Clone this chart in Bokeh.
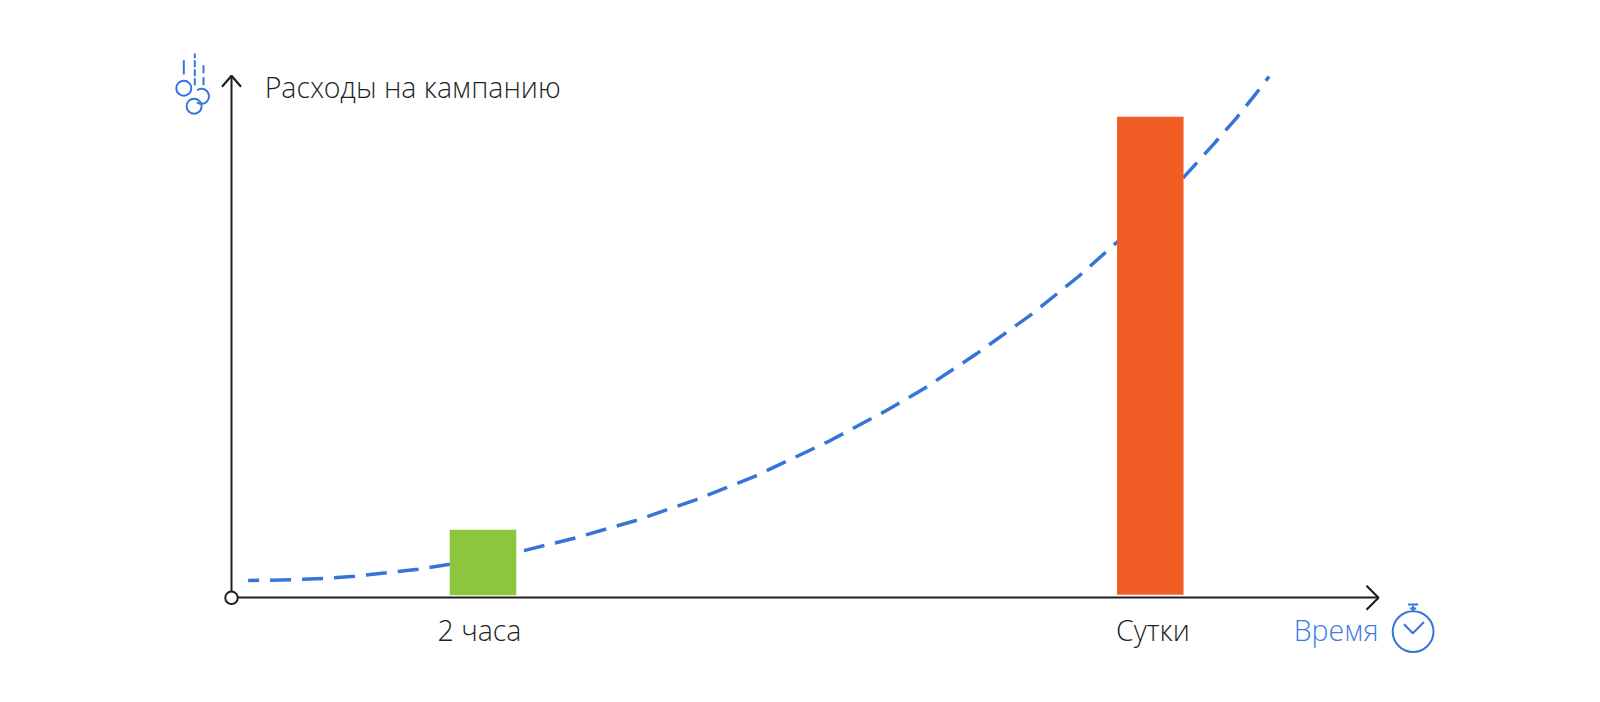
from bokeh.core.properties import value
from bokeh.embed import file_html
from bokeh.resources import INLINE
from bokeh.plotting import figure
from bokeh.models import FixedTicker, Range1d

FONT = "Open Sans Light"
INK = "#1f1f1f"
BLUE = "#3674d9"
TEXT_BLUE = "#3f7ce0"

# data: x/y units measured from the axis origin
bar_x = [251.5, 918.8]
bar_height = [65.5, 478]
bar_bottom = [2.5, 3]
bar_width = [66.5, 66.5]
bar_colors = ["#8cc63f", "#f15d24"]

curve_x = [16.6, 60, 91.6, 123.3, 155, 186.6, 218.3, 291.6, 341.6, 403.6, 464.3, 523.3, 598.3, 655, 692.3, 745, 797.6, 847, 886.6, 952.3, 983.3, 1004.3, 1024.3, 1037.6]
curve_y = [17.3, 18, 19.3, 21.6, 25, 28.6, 33.6, 47, 59.3, 77, 98, 121.5, 157, 187.3, 209, 244, 281.6, 321.3, 356.6, 420.6, 455, 479, 504, 521.3]

tick_positions = [248, 921.4]
tick_labels = {248: "2 часа", 921.4: "Сутки"}

y_title = "Расходы на кампанию"
x_title = "Время"

W, H = 1584, 686
OX, OY = 231.0, 597.3

p = figure(width=W, height=H, output_backend="svg", toolbar_location=None,
           min_border=0, outline_line_color=None, background_fill_color="white")
p.x_range = Range1d(-OX, W - OX)
p.y_range = Range1d(OY - H, OY)
p.grid.visible = False

# curve first, bars on top
p.line(curve_x, curve_y, line_color=BLUE, line_width=3.5, line_dash=[21, 11], line_dash_offset=10)
p.vbar(x=bar_x, width=bar_width, bottom=bar_bottom,
       top=[b + h for b, h in zip(bar_bottom, bar_height)], fill_color=bar_colors, line_color=None)

# axes
xa, ya = p.xaxis[0], p.yaxis[0]
xa.fixed_location = 0
ya.fixed_location = 0
xa.ticker = FixedTicker(ticks=tick_positions)
ya.ticker = FixedTicker(ticks=[])
xa.major_label_overrides = tick_labels
xa.bounds = (0, 1147)
ya.bounds = (0, 522)
for a in (xa, ya):
    a.axis_line_color = INK
    a.axis_line_width = 2
    a.major_tick_line_color = None
    a.minor_tick_line_color = None
xa.major_label_text_font = FONT
xa.major_label_text_font_size = "28.5px"
xa.major_label_text_color = INK
xa.major_label_standoff = 7

# arrow heads and origin
p.multi_line([[1135, 1147, 1135], [-9.5, 0, 9.5]], [[12, 0, -12], [511, 522, 511]],
             line_color=INK, line_width=2.2)
p.scatter([0], [0], size=12.5, marker="circle", fill_color="white", line_color=INK, line_width=2, level="overlay")

# titles
p.text([33.2], [510.5], text=[y_title], text_font=value(FONT), text_font_size="28.5px", text_color=INK,
       text_baseline="middle", text_align="left")
p.text([1147], [-31.8], text=[x_title], text_font=value(FONT), text_font_size="28.5px", text_color=TEXT_BLUE,
       text_baseline="middle", text_align="right")

# clock icon
p.circle([1181.6], [-33.8], radius=20.4, fill_color=None, line_color=BLUE, line_width=2)
p.multi_line([[1172.5, 1181.3, 1192.5], [1181.6, 1181.6], [1176.6, 1186.6], [1178.6, 1184.6]],
             [[-26.4, -35.4, -24.2], [-14, -8], [-6.7, -6.7], [-10.7, -10.7]], line_color=BLUE, line_width=2)

# coins icon
p.circle([-47.7, -37.4], [509.6, 491.6], radius=7.5, fill_color=None, line_color=BLUE, line_width=2)
p.arc([-30], [501.5], radius=7.5, start_angle=-2.2, end_angle=2.2, line_color=BLUE, line_width=2)
p.line([-47.7, -47.7], [523.3, 537.6], line_color=BLUE, line_width=2)
p.line([-36.7, -36.7], [512.6, 544.3], line_color=BLUE, line_width=2, line_dash=[7, 2])
p.line([-28, -28], [512.6, 533.3], line_color=BLUE, line_width=2, line_dash=[8, 4])

open("out.html", "w").write(file_html(p, INLINE))
